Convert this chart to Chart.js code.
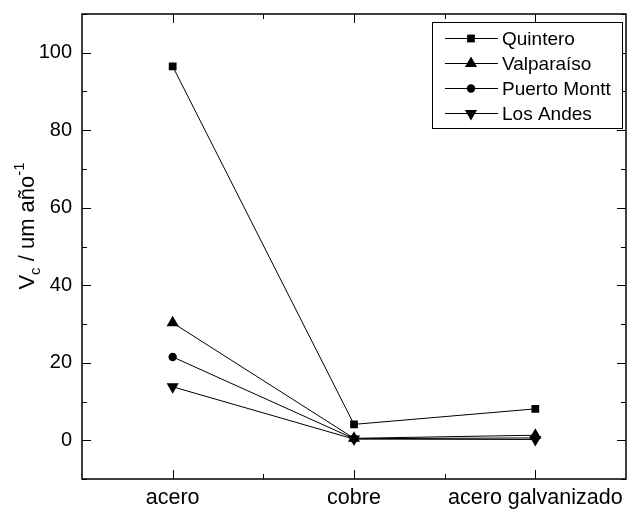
<!DOCTYPE html>
<html>
<head>
<meta charset="utf-8">
<script src="https://cdn.jsdelivr.net/npm/chart.js@4/dist/chart.umd.min.js"></script>
<style>
  html, body { margin: 0; padding: 0; background: #fff; overflow: hidden; }
  /* el lienzo es 4px más ancho que la ventana: Chart.js deja 4px libres a la derecha */
  #wrap { width: 633px; height: 510px; }
</style>
</head>
<body>
<div id="wrap"><canvas id="grafico" width="633" height="510"></canvas></div>
<script>
// ---- datos (Vc en um/año) ----
const categorias = ['acero', 'cobre', 'acero galvanizado'];
const quintero    = [96.5, 4.1, 8.1];
const valparaiso  = [30.3, 0.5, 1.3];
const puertoMontt = [21.5, 0.4, 0.6];
const losAndes    = [13.8, 0.3, 0.2];

const FUENTE = '"Liberation Sans", Arial, sans-serif';

// series: nombre, datos, marcador
const series = [
  { label: 'Quintero',     data: quintero,    pointStyle: 'rect',     radius: 5.5, rotation: 0 },
  { label: 'Valparaíso',   data: valparaiso,  pointStyle: 'triangle', radius: 7,   rotation: 0 },
  { label: 'Puerto Montt', data: puertoMontt, pointStyle: 'circle',   radius: 4.2, rotation: 0 },
  { label: 'Los Andes',    data: losAndes,    pointStyle: 'triangle', radius: 7,   rotation: 180 },
];

// marco, ticks hacia adentro (estilo Origin)
const marcoTicks = {
  id: 'marcoTicks',
  afterDraw(chart) {
    const { ctx, chartArea: a, scales: { x, y } } = chart;
    ctx.save();
    ctx.strokeStyle = '#000';
    ctx.lineWidth = 1;
    ctx.beginPath();
    y.ticks.forEach((t) => {
      const py = Math.round(y.getPixelForValue(t.value)) + 0.5;
      const len = t.value % 20 === 0 ? 9 : 5;
      ctx.moveTo(a.left, py); ctx.lineTo(a.left + len, py);
      ctx.moveTo(a.right, py); ctx.lineTo(a.right - len, py);
    });
    for (let i = 0; i < categorias.length; i++) {
      const px = Math.round(x.getPixelForValue(i)) + 0.5;
      ctx.moveTo(px, a.bottom); ctx.lineTo(px, a.bottom - 9);
      ctx.moveTo(px, a.top); ctx.lineTo(px, a.top + 9);
      if (i < categorias.length - 1) {
        const pm = Math.round((x.getPixelForValue(i) + x.getPixelForValue(i + 1)) / 2) + 0.5;
        ctx.moveTo(pm, a.bottom); ctx.lineTo(pm, a.bottom - 5);
        ctx.moveTo(pm, a.top); ctx.lineTo(pm, a.top + 5);
      }
    }
    ctx.stroke();
    ctx.lineWidth = 1.5;
    ctx.strokeRect(a.left, a.top, a.right - a.left, a.bottom - a.top);
    ctx.restore();
  }
};

// título del eje y con subíndice y superíndice
const tituloY = {
  id: 'tituloY',
  afterDraw(chart) {
    const { ctx } = chart;
    const partes = [
      { t: 'V', size: 22, dy: 0 },
      { t: 'c', size: 15, dy: 6 },
      { t: ' / um año', size: 22, dy: 0 },
      { t: '-1', size: 15, dy: -10 },
    ];
    ctx.save();
    let total = 0;
    partes.forEach((p) => { ctx.font = p.size + 'px ' + FUENTE; p.w = ctx.measureText(p.t).width; total += p.w; });
    ctx.translate(34, 226);
    ctx.rotate(-Math.PI / 2);
    ctx.fillStyle = '#000';
    ctx.textBaseline = 'alphabetic';
    let xx = -total / 2;
    partes.forEach((p) => {
      ctx.font = p.size + 'px ' + FUENTE;
      ctx.fillText(p.t, xx, p.dy);
      xx += p.w;
    });
    ctx.restore();
  }
};

// leyenda con línea + marcador
const leyenda = {
  id: 'leyenda',
  afterDraw(chart) {
    const { ctx } = chart;
    ctx.save();
    ctx.strokeStyle = '#000';
    ctx.lineWidth = 1;
    ctx.fillStyle = '#fff';
    ctx.fillRect(432.5, 22.5, 190, 106);
    ctx.strokeRect(432.5, 22.5, 190, 106);
    series.forEach((s, i) => {
      const yy = 38.5 + 25 * i;
      ctx.beginPath();
      ctx.moveTo(445, yy); ctx.lineTo(498, yy);
      ctx.stroke();
      ctx.fillStyle = '#000';
      Chart.helpers.drawPoint(ctx, {
        pointStyle: s.pointStyle, radius: s.radius, rotation: s.rotation, borderWidth: 0
      }, 471, yy);
      ctx.font = '19px ' + FUENTE;
      ctx.textBaseline = 'middle';
      ctx.fillText(s.label, 502, yy + 1);
    });
    ctx.restore();
  }
};

new Chart(document.getElementById('grafico'), {
  type: 'line',
  data: {
    labels: categorias,
    datasets: series.map((s) => ({
      label: s.label,
      data: s.data,
      borderColor: '#000',
      backgroundColor: '#000',
      borderWidth: 1,
      pointStyle: s.pointStyle,
      pointRadius: s.radius,
      pointRotation: s.rotation,
      pointBorderWidth: 0,
      tension: 0,
    })),
  },
  options: {
    responsive: false,
    animation: false,
    layout: { padding: { top: 14, right: 1, left: 0, bottom: 0 } },
    plugins: { legend: { display: false }, tooltip: { enabled: false } },
    scales: {
      x: {
        offset: true,
        grid: { display: false, drawTicks: false },
        border: { display: false },
        ticks: { color: '#000', padding: 6, font: { family: FUENTE, size: 21.5 }, maxRotation: 0 },
        afterFit: (s) => { s.height = 31; s.paddingLeft = 0; s.paddingRight = 0; },
      },
      y: {
        min: -10,
        max: 110,
        grid: { display: false, drawTicks: false },
        border: { display: false },
        ticks: {
          stepSize: 10,
          color: '#000',
          padding: 10,
          font: { family: FUENTE, size: 20 },
          callback: (v) => (v % 20 === 0 && v >= 0 && v <= 100 ? v : ''),
        },
        afterFit: (s) => { s.width = 82; s.paddingTop = 0; s.paddingBottom = 0; },
      },
    },
  },
  plugins: [marcoTicks, tituloY, leyenda],
});
</script>
</body>
</html>
